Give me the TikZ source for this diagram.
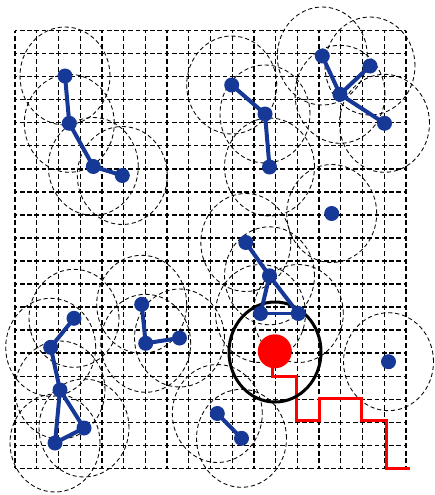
\documentclass[tikz,border=0pt]{standalone}
\definecolor{dotblue}{RGB}{22,56,150}
\tikzset{
  gridh/.style={line width=1.25pt, dash pattern=on 4.8pt off 2.44pt, dash phase=2.4pt},
  gridv/.style={line width=1.25pt, dash pattern=on 5pt off 2.68pt, dash phase=2.5pt},
  ring/.style={line width=0.85pt, dash pattern=on 4.2pt off 2.8pt},
  bdot/.style={circle, fill=dotblue, inner sep=0pt, minimum size=15pt},
  rdot/.style={circle, fill=red, inner sep=0pt, minimum size=34pt},
  link/.style={dotblue, line width=4pt},
  thinlink/.style={dotblue, line width=2.6pt},
  redpath/.style={red, line width=3pt, line join=miter},
  bigring/.style={black, line width=3pt}
}
\begin{document}
\begin{tikzpicture}[x=1pt,y=-1pt]
\useasboundingbox (0,0) rectangle (435,495);
\fill[white] (0,0) rectangle (435,495);
% grid
\foreach \i in {0,...,18} \draw[gridv] ({15+21.72*\i},30.7) -- ({15+21.72*\i},468.3);
\foreach \j in {0,...,19} \draw[gridh] (15,{30.7+23.03*\j}) -- (406,{30.7+23.03*\j});
% dot positions
\foreach \n/\x/\y in {A1/65/76, A2/69.3/123.3, A3/93.3/166.5, A4/122.3/175.5,
  B1/231.7/85, B2/265/114, B3/269.5/167,
  C1/322.3/56, C2/370/66, C3/340/94.3, C4/384.5/123.3,
  D/331.7/213.5,
  E1/245.8/242.5, E2/269.5/275.8, E3/260.5/313.5, E4/298.3/313.5,
  F/388.5/361.7,
  G1/217.3/413.5, G2/241.5/438.3,
  H1/74/318.3, H2/50.7/347.3, H3/60/390, H4/84/428, H5/55/443,
  I1/141.7/304.3, I2/145.7/343.3, I3/179.5/338}
  \coordinate (\n) at (\x,\y);
% dashed rings
\foreach \n in {A1,A2,A3,A4,B1,B2,B3,C1,C2,C3,C4,D,E1,E2,E3,E4,F,G1,G2,H1,H2,H3,H4,H5,I1,I2,I3}
  \draw[ring] (\n) ellipse [x radius=45pt, y radius=49pt];
% red path
\coordinate (p0) at (272.7,351);
\coordinate (pend) at (410,468.3);
\draw[redpath] (p0) -- (272.7,376.5) -- (296.3,376.5) -- (296.3,420.5) -- (319.3,420.5) -- (319.3,398) -- (361.8,398) -- (361.8,420.5) -- (386.5,420.5) -- (386.5,468.3) -- (pend);
% red dot and black ring
\node[rdot] (R) at (274.8,351.3) {};
\draw[bigring] (275,352) ellipse [x radius=46pt, y radius=50pt];
% blue edges
\foreach \a/\b in {A1/A2, A2/A3, A3/A4, B1/B2, B2/B3, C1/C3, C2/C3, C3/C4,
  E1/E2, E2/E3, E2/E4, G1/G2, H1/H2, H2/H3, H3/H4, H3/H5, H4/H5, I1/I2, I2/I3}
  \draw[link] (\a) -- (\b);
\draw[thinlink] (E3) -- (E4);
% blue dots
\foreach \n in {A1,A2,A3,A4,B1,B2,B3,C1,C2,C3,C4,D,E1,E2,E3,E4,F,G1,G2,H1,H2,H3,H4,H5,I1,I2,I3}
  \node[bdot] (n\n) at (\n) {};
\end{tikzpicture}
\end{document}
